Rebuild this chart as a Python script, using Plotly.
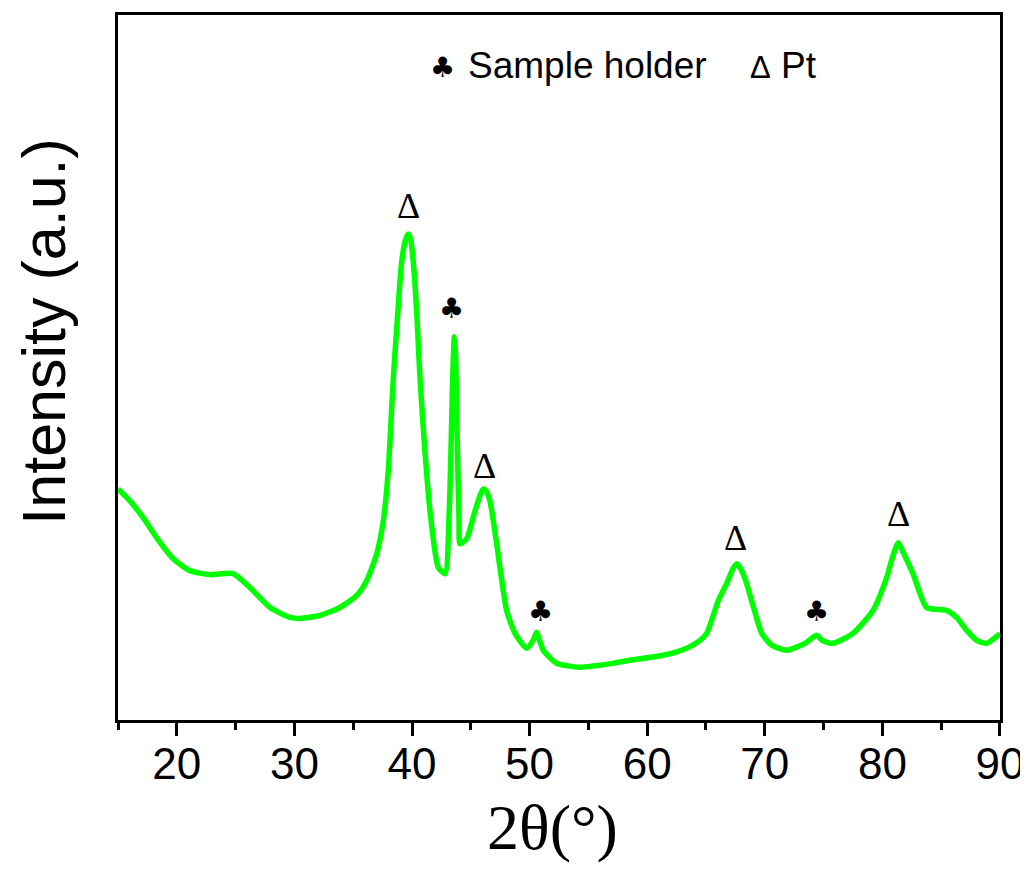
import plotly.graph_objects as go

# XRD pattern (2theta in degrees, intensity in arbitrary units)
two_theta = [15.0, 16.02, 17.15, 18.29, 19.70, 21.12, 22.82, 24.78, 26.22, 27.93,
             29.63, 30.48, 32.18, 33.88, 35.30, 36.15, 37.00, 37.56, 37.98, 38.41,
             38.80, 39.12, 39.45, 39.69, 39.90, 40.11, 40.40, 40.68, 41.10, 41.53,
             42.24, 42.81, 43.17, 43.46, 43.60, 43.70, 43.80, 44.00, 44.08, 44.65,
             45.36, 45.80, 46.06, 46.30, 46.63, 47.20, 48.05, 48.76, 49.75, 50.30,
             50.60, 50.85, 51.16, 52.30, 54.28, 57.12, 58.54, 61.37, 63.36, 64.49,
             65.06, 66.05, 66.76, 67.30, 67.61, 67.90, 68.32, 69.00, 69.74, 70.60,
             71.86, 73.42, 74.41, 74.86, 75.80, 77.50, 79.20, 80.36, 80.90, 81.35,
             81.70, 82.60, 83.76, 85.47, 86.32, 87.17, 88.02, 88.87, 89.83, 90.0]
intensity = [232, 220, 203, 183, 162, 150, 146, 147, 133, 113,
             103, 102, 105, 113, 125, 140, 167, 200, 250, 343,
             410, 460, 482, 488, 482, 460, 410, 343, 270, 210,
             153, 147, 210, 343, 385, 370, 310, 200, 177, 182,
             210, 226, 232, 230, 220, 177, 110, 87, 72, 80,
             88, 80, 70, 57, 53, 57, 60, 65, 72, 80,
             87, 120, 137, 152, 157, 153, 142, 115, 87, 75,
             70, 77, 85, 80, 77, 87, 110, 143, 165, 178,
             170, 147, 113, 110, 103, 90, 80, 77, 85, 87]

# peak markers
delta_x = [39.7, 46.2, 67.5, 81.4]
delta_y = [516, 255, 183, 207]
club_x = [43.4, 50.9, 74.4]
club_y = [413, 109, 109]

x_ticks = [20, 30, 40, 50, 60, 70, 80, 90]

# page offset (browser body margin) compensation
W, H = 1020, 864
L, T, PW, PH = 110, 4, 882, 708


def px(xp):
    return (xp - 8 - L) / PW


def py(yp):
    return (T + PH - (yp - 8)) / PH


fig = go.Figure()
fig.add_trace(go.Scatter(x=two_theta, y=intensity, mode="lines",
                         line=dict(color="#00ff00", width=5.5, shape="spline", smoothing=0.6),
                         showlegend=False, hoverinfo="skip"))

for xv, yv in zip(delta_x, delta_y):
    fig.add_annotation(x=xv, y=yv, xref="x", yref="y", text="Δ", showarrow=False,
                       font=dict(family="Liberation Serif", size=36, color="black"),
                       xanchor="center", yanchor="middle")
for xv, yv in zip(club_x, club_y):
    fig.add_annotation(x=xv, y=yv, xref="x", yref="y", text="♣", showarrow=False,
                       font=dict(family="DejaVu Sans", size=28, color="black"),
                       xanchor="center", yanchor="middle")

# key text
fig.add_annotation(x=px(442), y=py(65), xref="paper", yref="paper",
                   text="♣", showarrow=False, xanchor="center", yanchor="middle",
                   font=dict(family="DejaVu Sans", size=28, color="black"))
fig.add_annotation(x=px(466), y=py(63), xref="paper", yref="paper",
                   text="Sample holder", showarrow=False, xanchor="left", yanchor="middle",
                   font=dict(family="Liberation Sans", size=37, color="black"))
fig.add_annotation(x=px(748), y=py(63), xref="paper", yref="paper",
                   text="<span style='font-size:31px'>Δ</span> Pt", showarrow=False,
                   xanchor="left", yanchor="middle",
                   font=dict(family="Liberation Sans", size=37, color="black"))

# axis titles
fig.add_annotation(x=px(44), y=py(330), xref="paper", yref="paper",
                   text="Intensity (a.u.)", showarrow=False, textangle=-90,
                   xanchor="center", yanchor="middle",
                   font=dict(family="Liberation Sans", size=61, color="black"))
fig.add_annotation(x=px(552), y=py(828), xref="paper", yref="paper",
                   text="2θ(°)", showarrow=False, xanchor="center", yanchor="middle",
                   font=dict(family="Liberation Serif", size=64, color="black"))

fig.update_layout(
    width=W, height=H,
    margin=dict(l=L, r=W - L - PW, t=T, b=H - T - PH),
    plot_bgcolor="white", paper_bgcolor="white",
    xaxis=dict(range=[15, 90.001], tickvals=x_ticks, ticktext=[str(v) for v in x_ticks],
               ticks="outside", ticklen=13, tickwidth=2.5, tickcolor="black",
               ticklabelstandoff=-10, ticklabeloverflow="allow",
               showline=True, linecolor="black", linewidth=2.5, mirror=True,
               showgrid=False, zeroline=False,
               tickfont=dict(family="Liberation Sans", size=44, color="black"),
               minor=dict(tickvals=[15, 25, 35, 45, 55, 65, 75, 85], ticks="outside",
                          ticklen=7, tickwidth=2.5, tickcolor="black")),
    yaxis=dict(range=[0, 708], showticklabels=False, ticks="",
               showline=True, linecolor="black", linewidth=2.5, mirror=True,
               showgrid=False, zeroline=False),
)

fig.write_html("out.html")
